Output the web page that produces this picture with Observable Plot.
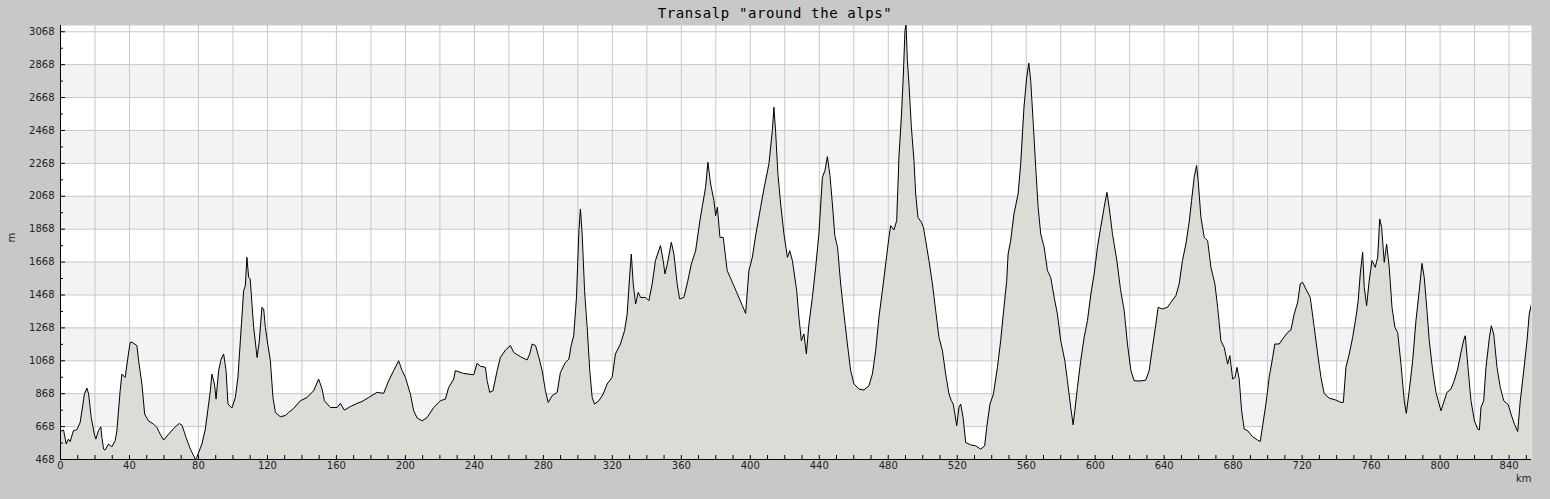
<!DOCTYPE html>
<html>
<head>
<meta charset="utf-8">
<script src="https://cdn.jsdelivr.net/npm/d3@7"></script>
<script src="https://cdn.jsdelivr.net/npm/@observablehq/plot@0.6"></script>
<style>
  html, body { margin: 0; padding: 0; background: #c8c8c8; }
  #title { width: 1550px; height: 25px; box-sizing: border-box; padding-top: 5px; text-align: center;
    font-family: "DejaVu Sans Mono", monospace; font-size: 14px; letter-spacing: 0.6px; color: #000; line-height: 16px; }
  #chart svg { display: block; }
</style>
</head>
<body>
<div id="title">Transalp "around the alps"</div>
<div id="chart"></div>
<script>
const title = 'Transalp "around the alps"';
const xLabel = "km";
const yLabel = "m";

const distanceKm = [
  0, 1.8, 3.3, 4.6, 5.6, 7.5, 9.5, 11.4, 13.9, 15.3, 16.3, 17.8, 19.7, 20.5, 22, 23.4, 24, 25, 25.8, 27.9,
  29.8, 31.7, 32.7, 34.6, 35.6, 37.5, 39.1, 40.4, 41.6, 44.3, 45.3, 47.2, 48.8, 51, 54, 55.9, 57.8, 59.8, 62.7, 66.2,
  68.9, 70.5, 72.8, 75.3, 78.2, 79, 82, 84, 85.9, 86.9, 87.8, 89.3, 90.2, 91.7, 93.2, 94.6, 96, 97.1, 99.4, 101.4,
  102.9, 104.3, 106.2, 107.2, 108.1, 109.1, 110, 112, 114, 115.3, 116.8, 117.8, 118.8, 120.3, 121.7, 123.2, 124.6, 127.5, 130.4, 132.3,
  135.2, 139.1, 143, 146.8, 149.7, 151.7, 153, 156.5, 160.4, 162.3, 164.6, 168, 172, 174.9, 178.7, 183.6, 187.4, 190.3, 193.2, 196.1,
  198.1, 200, 202.9, 204.8, 206.8, 209.7, 212.6, 216.4, 220.3, 223.2, 225.1, 228, 229, 233.8, 239.6, 241.6, 243.5, 246.4, 247.4, 248.9,
  250.8, 253.2, 255.1, 258, 260.9, 262.8, 266.7, 270.6, 272.1, 273.5, 275.5, 277.4, 279.3, 281.2, 282.8, 285.1, 288, 289.9, 292.8, 294.8,
  296.1, 297.6, 299.2, 300.6, 301.5, 302.5, 303.9, 305.4, 306.9, 308.3, 309.7, 312.2, 314.7, 317, 319.9, 321.8, 324.7, 327.1, 328.6, 330,
  331, 332.1, 333.5, 335, 336.4, 339.3, 341.2, 343.1, 345, 347.9, 349.5, 350.5, 351.9, 354.2, 355.7, 357.6, 359, 361.5, 363.8, 365.8,
  368.3, 370.8, 372.1, 374.1, 375.4, 377, 378.9, 379.9, 380.9, 382.4, 384.3, 386.6, 389.6, 392.5, 395.4, 397.3, 399.2, 401.2, 403.1, 406,
  407.9, 410.8, 412.8, 413.7, 414.7, 416, 417.6, 419.5, 421.5, 422.9, 424.4, 426.9, 428.2, 429.6, 431.1, 432.5, 434, 436, 437.9, 439.8,
  441.8, 443.3, 444.7, 446.2, 447.6, 449, 450.6, 452.4, 454.3, 456.3, 458.2, 460.1, 463, 465.9, 468.8, 470.8, 472.7, 474.6, 476.6, 478.5,
  480.4, 481.4, 483.3, 484.9, 486.2, 487.6, 488.7, 489.7, 490.3, 491.1, 492, 493.4, 494.9, 495.9, 497.2, 499.2, 500.4, 501.7, 503.6, 505.6,
  507.5, 509.4, 511.4, 513.3, 515.2, 516.6, 517.7, 519.7, 521, 522, 523.4, 524.9, 527.8, 530.7, 533.6, 535.9, 537.1, 539, 541, 543.3,
  545.2, 547.1, 548.7, 549.5, 551, 552.9, 555.3, 556.8, 558.7, 560.3, 561.5, 562.6, 564.2, 565.5, 566.9, 568.4, 570.4, 572.3, 574.2, 576.2,
  578.1, 580, 582.4, 583.9, 585.8, 587.2, 588.2, 589.7, 591.6, 593.6, 595.5, 597.5, 599.4, 601.3, 603.2, 605.2, 606.8, 608.1, 610, 612.5,
  614.7, 616.8, 618.7, 620.7, 622.6, 625.5, 629.3, 631.3, 633.2, 635.2, 636.5, 639, 641.9, 643.9, 646.8, 648.7, 650.6, 652.6, 654.5, 655.9,
  657.4, 658.8, 659.7, 661.3, 663.2, 665.2, 667.1, 669.4, 671, 672.9, 674.8, 676.8, 678.1, 679.7, 681.1, 682.2, 683.5, 684.9, 686.4, 688.4,
  691.3, 694.2, 695.7, 697.1, 699, 700.9, 702.9, 704.2, 706.7, 708.7, 711.6, 713.5, 715.4, 717.4, 718.9, 720.3, 722.2, 724.7, 727, 729,
  730.9, 732.8, 735.7, 739.6, 742.5, 743.9, 745.4, 747.3, 749.3, 751.2, 752.5, 753.7, 755.1, 756, 757.4, 758.9, 760.5, 762.4, 763.8, 765,
  766.1, 767.6, 769, 770.5, 772.1, 773.8, 775.4, 777.3, 779.2, 780.4, 782.1, 784.1, 786, 787.9, 789.5, 790.8, 792.4, 793.7, 795.7, 797.6,
  798.9, 800.5, 802.1, 804, 806.3, 808.2, 810.2, 812.1, 813.7, 814.6, 816, 817.9, 819.9, 821.8, 822.8, 823.7, 825.3, 826.6, 828.6, 829.7,
  831.1, 833, 834.9, 836.9, 839.5, 841.1, 843.1, 845, 846.5, 848.5, 850.4, 851.7, 853
];

const elevationM = [
  640, 647, 562, 592, 577, 643, 649, 693, 866, 902, 866, 723, 618, 592, 643, 667, 602, 531, 525, 562,
  545, 582, 643, 886, 987, 967, 1088, 1180, 1180, 1160, 1068, 927, 744, 703, 683, 663, 622, 586, 622, 663,
  687, 675, 602, 531, 470, 480, 562, 653, 805, 886, 987, 927, 835, 1008, 1079, 1109, 1008, 805, 781, 845,
  967, 1190, 1494, 1525, 1697, 1575, 1565, 1271, 1088, 1190, 1393, 1383, 1271, 1160, 1068, 845, 754, 728, 735, 754,
  778, 825, 845, 886, 957, 896, 825, 784, 784, 809, 768, 789, 809, 821, 845, 876, 870, 947, 1008, 1068,
  1008, 967, 866, 764, 720, 703, 723, 784, 825, 835, 906, 957, 1008, 991, 983, 1052, 1035, 1028, 947, 876,
  886, 1008, 1088, 1133, 1160, 1119, 1093, 1073, 1109, 1170, 1160, 1088, 1008, 886, 815, 855, 876, 997, 1058, 1078,
  1160, 1220, 1453, 1859, 1991, 1839, 1494, 1271, 1008, 845, 805, 825, 866, 927, 967, 1109, 1170, 1251, 1352, 1575,
  1717, 1535, 1413, 1484, 1453, 1453, 1433, 1535, 1677, 1768, 1677, 1596, 1656, 1788, 1717, 1535, 1444, 1453, 1555, 1656,
  1737, 1920, 2001, 2123, 2275, 2143, 2042, 1950, 2001, 1818, 1818, 1616, 1545, 1474, 1403, 1356, 1616, 1697, 1829, 2001,
  2113, 2265, 2467, 2609, 2457, 2204, 2021, 1839, 1697, 1737, 1677, 1494, 1332, 1190, 1231, 1109, 1292, 1453, 1636, 1839,
  2183, 2224, 2309, 2194, 2021, 1829, 1758, 1535, 1352, 1170, 1008, 927, 896, 890, 916, 987, 1129, 1332, 1494, 1656,
  1818, 1889, 1863, 1920, 2305, 2550, 2792, 3076, 3110, 2893, 2751, 2488, 2285, 2082, 1940, 1910, 1879, 1798, 1677, 1535,
  1373, 1210, 1129, 987, 866, 825, 805, 673, 784, 805, 723, 571, 557, 551, 531, 551, 663, 805, 866, 1028,
  1190, 1393, 1555, 1717, 1798, 1961, 2082, 2265, 2609, 2792, 2877, 2771, 2488, 2245, 2001, 1839, 1758, 1616, 1575, 1453,
  1352, 1190, 1068, 947, 784, 679, 764, 906, 1068, 1210, 1312, 1474, 1596, 1758, 1879, 2001, 2092, 2001, 1840, 1680,
  1500, 1373, 1170, 1008, 947, 945, 950, 1008, 1149, 1292, 1393, 1383, 1393, 1423, 1464, 1535, 1677, 1778, 1910, 2042,
  2183, 2255, 2163, 1940, 1818, 1798, 1636, 1535, 1393, 1190, 1149, 1048, 1099, 957, 967, 1028, 957, 764, 653, 643,
  606, 586, 577, 673, 805, 967, 1088, 1170, 1170, 1200, 1240, 1255, 1352, 1423, 1535, 1545, 1504, 1453, 1271, 1109,
  967, 868, 841, 829, 815, 815, 1028, 1109, 1210, 1332, 1433, 1596, 1727, 1514, 1403, 1555, 1677, 1636, 1697, 1930,
  1879, 1666, 1778, 1636, 1393, 1271, 1240, 1048, 825, 748, 886, 1068, 1312, 1494, 1660, 1575, 1373, 1190, 1008, 876,
  825, 764, 815, 876, 896, 947, 1018, 1119, 1194, 1220, 1048, 825, 703, 653, 648, 784, 825, 1028, 1210, 1281,
  1231, 1028, 906, 825, 801, 744, 683, 638, 825, 1008, 1190, 1352, 1413
];

const yTickLabels = [468, 668, 868, 1068, 1268, 1468, 1668, 1868, 2068, 2268, 2468, 2668, 2868, 3068];
const yMinorTicks = [568, 768, 968, 1168, 1368, 1568, 1768, 1968, 2168, 2368, 2568, 2768, 2968];
const xTickLabels = [0, 40, 80, 120, 160, 200, 240, 280, 320, 360, 400, 440, 480, 520, 560, 600, 640, 680, 720, 760, 800, 840];
const xGrid = [20, 40, 60, 80, 100, 120, 140, 160, 180, 200, 220, 240, 260, 280, 300, 320, 340, 360, 380, 400, 420,
  440, 460, 480, 500, 520, 540, 560, 580, 600, 620, 640, 660, 680, 700, 720, 740, 760, 780, 800, 820, 840];
const xMinorTicks = [0, 10, 20, 30, 40, 50, 60, 70, 80, 90, 100, 110, 120, 130, 140, 150, 160, 170, 180, 190, 200, 210, 220,
  230, 240, 250, 260, 270, 280, 290, 300, 310, 320, 330, 340, 350, 360, 370, 380, 390, 400, 410, 420, 430, 440, 450,
  460, 470, 480, 490, 500, 510, 520, 530, 540, 550, 560, 570, 580, 590, 600, 610, 620, 630, 640, 650, 660, 670, 680,
  690, 700, 710, 720, 730, 740, 750, 760, 770, 780, 790, 800, 810, 820, 830, 840, 850];
const bandStarts = [668, 1068, 1468, 1868, 2268, 2668];
const xDomain = [0, 853];
const yDomain = [468, 3106];

const profile = distanceKm.map((k, i) => ({km: k, m: elevationM[i]}));
const bands = bandStarts.map(b => ({y1: b, y2: b + 200}));

const chart = Plot.plot({
  width: 1550,
  height: 474,
  marginTop: 0,
  marginBottom: 40,
  marginLeft: 60,
  marginRight: 19,
  style: {fontFamily: "DejaVu Sans, sans-serif", fontSize: "10px", color: "#222", background: "transparent", overflow: "visible"},
  x: {domain: xDomain},
  y: {domain: yDomain},
  marks: [
    Plot.frame({fill: "white", stroke: null}),
    Plot.rectY(bands, {x1: xDomain[0], x2: xDomain[1], y1: "y1", y2: "y2", fill: "#f3f2f5"}),
    Plot.ruleX(xGrid, {stroke: "#c8c8c8", strokeWidth: 1}),
    Plot.ruleY(yTickLabels.slice(1), {stroke: "#c8c8c8", strokeWidth: 1}),
    Plot.areaY(profile, {x: "km", y1: yDomain[0], y2: "m", fill: "#dcdbd6", clip: true}),
    Plot.lineY(profile, {x: "km", y: "m", stroke: "#000", strokeWidth: 1, clip: true}),
    Plot.ruleX([xDomain[0]], {stroke: "#000"}),
    Plot.ruleY([yDomain[0]], {stroke: "#000"}),
    Plot.axisY(yTickLabels, {anchor: "left", tickSize: -5, tickPadding: 11, label: null, stroke: "#000", fill: "#222",
      tickFormat: d => String(d)}),
    Plot.axisY(yMinorTicks, {anchor: "left", tickSize: -3, tickFormat: () => "", label: null, stroke: "#000"}),
    Plot.axisX(xMinorTicks, {anchor: "bottom", tickSize: -4, tickPadding: 6, label: null, stroke: "#000", fill: "#222",
      tickFormat: d => (xTickLabels.includes(d) ? String(d) : "")}),
    Plot.text([xLabel], {frameAnchor: "bottom-right", text: d => d, dy: 22, lineAnchor: "bottom", textAnchor: "end", fontSize: 10, fill: "#222"}),
    Plot.text([yLabel], {frameAnchor: "left", text: d => d, dx: -49, rotate: -90, fontSize: 10, fill: "#222"})
  ]
});
document.getElementById("chart").appendChild(chart);
</script>
</body>
</html>
